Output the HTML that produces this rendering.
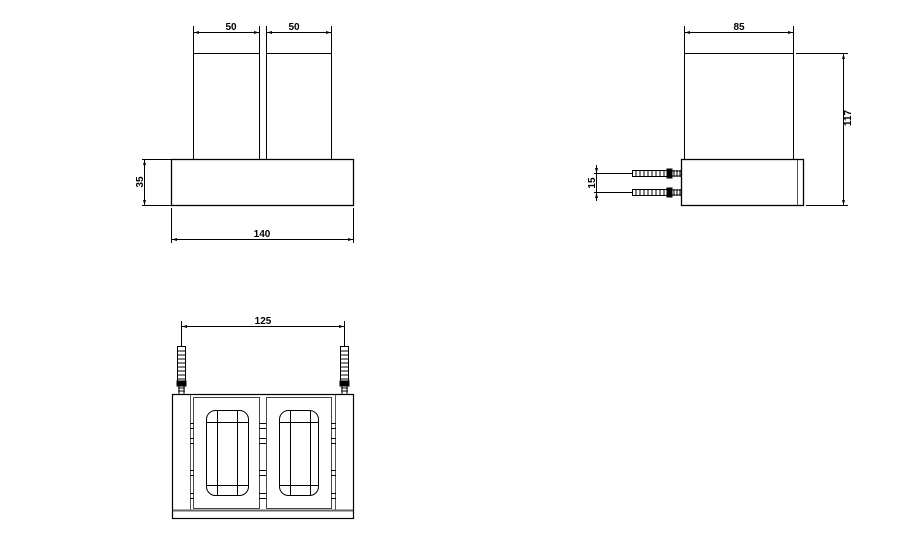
<!DOCTYPE html>
<html><head><meta charset="utf-8"><style>
html,body{margin:0;padding:0;background:#fff;width:906px;height:536px;overflow:hidden}
text{font-family:"Liberation Sans",sans-serif;font-weight:bold;font-size:10px;fill:#000}
</style></head><body>
<svg width="906" height="536" viewBox="0 0 906 536" xmlns="http://www.w3.org/2000/svg">
<defs>
<marker id="a" viewBox="0 0 10 6" refX="10" refY="3" markerWidth="7" markerHeight="3" orient="auto-start-reverse" markerUnits="userSpaceOnUse"><path d="M0,0L10,3L0,6z" fill="#000"/></marker>
</defs>
<g fill="none" stroke="#000" stroke-width="1">
<rect x="193.5" y="53.5" width="66" height="106"/>
<rect x="266.5" y="53.5" width="65" height="106"/>
<rect x="171.5" y="159.5" width="182" height="46" stroke-width="1.3"/>
<line x1="193.5" y1="26" x2="193.5" y2="53"/>
<line x1="259.5" y1="26" x2="259.5" y2="53"/>
<line x1="266.5" y1="26" x2="266.5" y2="53"/>
<line x1="331.5" y1="26" x2="331.5" y2="53"/>
<line x1="194" y1="32.5" x2="259" y2="32.5" marker-start="url(#a)" marker-end="url(#a)"/>
<line x1="267" y1="32.5" x2="331" y2="32.5" marker-start="url(#a)" marker-end="url(#a)"/>
<line x1="142" y1="159.5" x2="171" y2="159.5"/>
<line x1="142" y1="205.5" x2="171" y2="205.5"/>
<line x1="144.5" y1="160" x2="144.5" y2="205" marker-start="url(#a)" marker-end="url(#a)"/>
<line x1="171.5" y1="208" x2="171.5" y2="243"/>
<line x1="353.5" y1="208" x2="353.5" y2="243"/>
<line x1="172" y1="239.5" x2="353" y2="239.5" marker-start="url(#a)" marker-end="url(#a)"/>

<rect x="684.5" y="53.5" width="109" height="106"/>
<rect x="681.5" y="159.5" width="122" height="46" stroke-width="1.3"/>
<line x1="797.5" y1="160" x2="797.5" y2="205" stroke="#555"/>
<line x1="684.5" y1="26" x2="684.5" y2="53"/>
<line x1="793.5" y1="26" x2="793.5" y2="53"/>
<line x1="685" y1="32.5" x2="793" y2="32.5" marker-start="url(#a)" marker-end="url(#a)"/>
<line x1="796" y1="53.5" x2="848" y2="53.5"/>
<line x1="806" y1="205.5" x2="848" y2="205.5"/>
<line x1="843.5" y1="54" x2="843.5" y2="205" marker-start="url(#a)" marker-end="url(#a)"/>
<line x1="594" y1="173.5" x2="632" y2="173.5"/>
<line x1="594" y1="192.5" x2="632" y2="192.5"/>
<line x1="596.5" y1="165" x2="596.5" y2="173" marker-end="url(#a)"/>
<line x1="596.5" y1="201" x2="596.5" y2="193" marker-end="url(#a)"/>
<line x1="596.5" y1="173" x2="596.5" y2="193"/>
</g>
<g stroke="#000" stroke-width="1" fill="#fff">
<rect x="632.5" y="170.5" width="38" height="6"/>
<rect x="632.5" y="189.5" width="38" height="6"/>
</g>
<g stroke="#000" stroke-width="1">
<path d="M636,170v7M640,170v7M644,170v7M648,170v7M652,170v7M656,170v7M660,170v7M664,170v7M636,189v7M640,189v7M644,189v7M648,189v7M652,189v7M656,189v7M660,189v7M664,189v7"/>
<rect x="667" y="169" width="5" height="9" fill="#000"/>
<rect x="667" y="188" width="5" height="9" fill="#000"/>
<path d="M672,171h9M672,176h9M674,170v7M677,170v7M680,170v7M672,190h9M672,195h9M674,189v7M677,189v7M680,189v7"/>
</g>

<g fill="none" stroke="#000" stroke-width="1">
<line x1="181.5" y1="321" x2="181.5" y2="346"/>
<line x1="344.5" y1="321" x2="344.5" y2="346"/>
<line x1="182" y1="326.5" x2="344" y2="326.5" marker-start="url(#a)" marker-end="url(#a)"/>
<rect x="172.5" y="394.5" width="181" height="124" stroke-width="1.2"/>
<line x1="173" y1="510.5" x2="353" y2="510.5" stroke="#666" stroke-width="2"/>
<line x1="190.5" y1="395" x2="190.5" y2="510" stroke="#555"/>
<line x1="335.5" y1="395" x2="335.5" y2="510" stroke="#555"/>
<rect x="193.5" y="397.5" width="66" height="111" stroke="#444"/>
<rect x="266.5" y="397.5" width="65" height="111" stroke="#444"/>
<rect x="206.5" y="410.5" width="42" height="85" rx="9"/>
<rect x="279.5" y="410.5" width="39" height="85" rx="9"/>
<path d="M207,422.5h41M207,485.5h41M217.5,411v84M237.5,411v84M280,422.5h38M280,485.5h38M290.5,411v84M310.5,411v84"/>
<path d="M259,423.5h7M259,428.5h7M259,438.5h7M259,443.5h7M259,470.5h7M259,475.5h7M259,493.5h7M259,498.5h7"/>
<path d="M190,423.5h4M190,428.5h4M190,438.5h4M190,443.5h4M190,470.5h4M190,475.5h4M190,493.5h4M190,498.5h4"/>
<path d="M331,423.5h5M331,428.5h5M331,438.5h5M331,443.5h5M331,470.5h5M331,475.5h5M331,493.5h5M331,498.5h5"/>
</g>
<g stroke="#000" stroke-width="1" fill="#fff">
<rect x="177.5" y="346.5" width="8" height="38"/>
<rect x="340.5" y="346.5" width="8" height="38"/>
</g>
<g stroke="#000" stroke-width="1">
<path d="M178,351h7M178,355h7M178,359h7M178,363h7M178,367h7M178,371h7M178,375h7M178,379h7M341,351h7M341,355h7M341,359h7M341,363h7M341,367h7M341,371h7M341,375h7M341,379h7"/>
<rect x="177" y="381" width="9" height="5" fill="#000"/>
<rect x="340" y="381" width="9" height="5" fill="#000"/>
<path d="M179,386v9M184,386v9M178,388h7M178,391h7M342,386v9M347,386v9M341,388h7M341,391h7"/>
</g>

<text x="231" y="30" text-anchor="middle">50</text>
<text x="294" y="30" text-anchor="middle">50</text>
<text x="262" y="237" text-anchor="middle">140</text>
<text transform="translate(143,182) rotate(-90)" text-anchor="middle">35</text>
<text x="739" y="30" text-anchor="middle">85</text>
<text transform="translate(851,118) rotate(-90)" text-anchor="middle">117</text>
<text transform="translate(595,183) rotate(-90)" text-anchor="middle">15</text>
<text x="263" y="324" text-anchor="middle">125</text>
</svg>
</body></html>
